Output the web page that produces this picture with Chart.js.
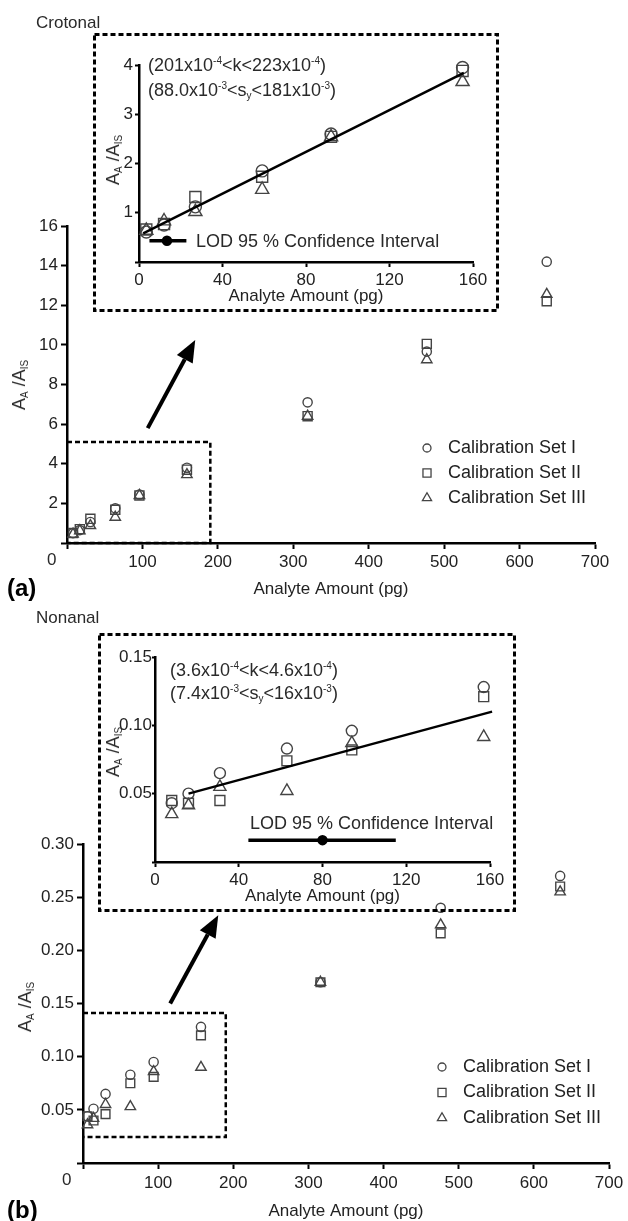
<!DOCTYPE html>
<html>
<head>
<meta charset="utf-8">
<script src="https://cdn.jsdelivr.net/npm/chart.js@4.4.0/dist/chart.umd.min.js"></script>
<style>
  html, body { margin: 0; padding: 0; background: #fff; }
  body { position: relative; width: 628px; height: 1221px; overflow: hidden;
         font-family: "Liberation Sans", Arial, sans-serif; color: #2a2a2a; }
  canvas { position: absolute; }
  .t { position: absolute; white-space: nowrap; line-height: 1; }
  .t sup { font-size: 10px; vertical-align: 7px; line-height: 0; }
  .t sub { font-size: 10px; vertical-align: -3px; line-height: 0; }
  .yt { position: absolute; white-space: nowrap; line-height: 1; font-size: 18px;
        transform: translate(-50%, -50%) rotate(-90deg); }
  .yt sub { font-size: 10px; vertical-align: -3px; line-height: 0; }
</style>
</head>
<body>
<canvas id="mainA" width="628" height="605" style="left:0;top:0"></canvas>
<canvas id="insetA" width="406" height="279" style="left:93px;top:33px"></canvas>
<canvas id="mainB" width="628" height="630" style="left:0;top:600px"></canvas>
<canvas id="insetB" width="418" height="279" style="left:98px;top:633px"></canvas>

<div class="t" style="left:36px;top:14px;font-size:17px">Crotonal</div>
<div class="t" style="left:36px;top:609px;font-size:17px">Nonanal</div>
<div class="t" style="left:7px;top:576px;font-size:24px;font-weight:bold;color:#000">(a)</div>
<div class="t" style="left:7px;top:1198px;font-size:24px;font-weight:bold;color:#000">(b)</div>
<div class="t" style="left:47px;top:551px;font-size:17px">0</div>
<div class="t" style="left:62px;top:1171px;font-size:17px">0</div>

<div class="yt" style="left:19px;top:385px">A<sub>A</sub> /A<sub>IS</sub></div>
<div class="yt" style="left:113px;top:160px">A<sub>A</sub> /A<sub>IS</sub></div>
<div class="yt" style="left:25px;top:1007px">A<sub>A</sub> /A<sub>IS</sub></div>
<div class="yt" style="left:113px;top:752px">A<sub>A</sub> /A<sub>IS</sub></div>

<div class="t" style="left:148px;top:56px;font-size:18px">(201x10<sup>-4</sup>&lt;k&lt;223x10<sup>-4</sup>)</div>
<div class="t" style="left:148px;top:81px;font-size:18px">(88.0x10<sup>-3</sup>&lt;s<sub>y</sub>&lt;181x10<sup>-3</sup>)</div>
<div class="t" style="left:196px;top:232px;font-size:18px">LOD 95 % Confidence Interval</div>

<div class="t" style="left:170px;top:661px;font-size:18px">(3.6x10<sup>-4</sup>&lt;k&lt;4.6x10<sup>-4</sup>)</div>
<div class="t" style="left:170px;top:684px;font-size:18px">(7.4x10<sup>-3</sup>&lt;s<sub>y</sub>&lt;16x10<sup>-3</sup>)</div>
<div class="t" style="left:250px;top:814px;font-size:18px">LOD 95 % Confidence Interval</div>

<script>
// crotonal, full range (a)
const amountA = [8, 17, 31, 64, 96, 159, 319, 477, 636];
const crotSet1 = [0.5, 0.65, 1.06, 1.75, 2.45, 3.8, 7.1, 9.66, 14.2];
const crotSet2 = [0.5, 0.7, 1.22, 1.68, 2.4, 3.7, 6.4, 10.05, 12.2];
const crotSet3 = [0.45, 0.62, 0.88, 1.3, 2.4, 3.45, 6.4, 9.25, 12.55];

// crotonal inset
const insetAmountA = [3.5, 12, 27, 59, 92, 155];
const insetCrot1 = [0.61, 0.75, 1.12, 1.85, 2.6, 3.95];
const insetCrot2 = [0.66, 0.77, 1.32, 1.73, 2.54, 3.88];
const insetCrot3 = [0.64, 0.83, 1.02, 1.47, 2.54, 3.66];
const fitAx = [2, 155.6];
const fitAy = [0.58, 3.84];
const lodAx = [5, 13.4, 22.7];
const lodAy = 0.43;

// nonanal, full range (b)
const amountB = [6, 14, 30, 63, 94, 157, 316, 476, 635];
const nonSet1 = [0.044, 0.051, 0.065, 0.083, 0.095, 0.128, 0.17, 0.240, 0.270];
const nonSet2 = [0.044, 0.040, 0.046, 0.075, 0.081, 0.120, 0.17, 0.216, 0.260];
const nonSet3 = [0.036, 0.042, 0.055, 0.053, 0.086, 0.090, 0.17, 0.224, 0.255];

// nonanal inset
const insetAmountB = [8, 16, 31, 63, 94, 157];
const insetNon1 = [0.043, 0.050, 0.065, 0.083, 0.096, 0.128];
const insetNon2 = [0.045, 0.043, 0.045, 0.074, 0.082, 0.121];
const insetNon3 = [0.035, 0.0415, 0.055, 0.052, 0.087, 0.0915];
const fitBx = [16, 161];
const fitBy = [0.050, 0.110];
const lodBx = [44.6, 80, 115];
const lodBy = 0.016;

// tick values
const xTicksMain = [0, 100, 200, 300, 400, 500, 600, 700];
const yTicksA = [0, 2, 4, 6, 8, 10, 12, 14, 16];
const yTicksB = [0, 0.05, 0.10, 0.15, 0.20, 0.25, 0.30];
const xTicksInset = [0, 40, 80, 120, 160];
const yTicksInsetA = [0, 1, 2, 3, 4];
const yTicksInsetB = [0, 0.05, 0.10, 0.15];

// zoom box + arrow, in data units of the main plots
const zoomBoxA = { x0: 0, x1: 190, y0: 0, y1: 5.1 };
const arrowA = { from: [107, 5.8], to: [170, 10.25] };
const zoomBoxB = { x0: 0, x1: 190, y0: 0.0244, y1: 0.141 };
const arrowB = { from: [116, 0.150], to: [180, 0.233] };

const SET_LABELS = ['Calibration Set I', 'Calibration Set II', 'Calibration Set III'];
const FONT = '"Liberation Sans", Arial, sans-serif';
const MARK = '#444';

Chart.defaults.font.family = FONT;
Chart.defaults.color = '#222';

function pts(xs, ys) {
  return xs.map((x, i) => ({ x, y: ys[i] }));
}

function markers(xs, ys, i, sizes) {
  const styles = ['circle', 'rect', 'triangle'];
  return {
    label: SET_LABELS[i],
    data: pts(xs, ys),
    pointStyle: styles[i],
    pointRadius: sizes[i],
    pointHoverRadius: sizes[i],
    borderColor: MARK,
    backgroundColor: 'rgba(0,0,0,0)',
    borderWidth: 1.4,
    showLine: false,
    clip: false,
    inLegend: true
  };
}

function fitLine(xs, ys) {
  return {
    label: 'fit',
    data: pts(xs, ys),
    showLine: true,
    borderColor: '#000',
    borderWidth: 2.5,
    pointRadius: 0,
    clip: false
  };
}

function lodBar(xs, y) {
  return {
    label: 'LOD',
    data: xs.map(x => ({ x, y })),
    showLine: true,
    borderColor: '#000',
    borderWidth: 3.5,
    pointRadius: [0, 3.5, 0],
    pointBackgroundColor: '#000',
    pointBorderColor: '#000',
    clip: false
  };
}

function axis(ticks, o) {
  return {
    type: 'linear',
    min: ticks[0],
    max: ticks[ticks.length - 1],
    afterBuildTicks: s => { s.ticks = ticks.map(v => ({ value: v })); },
    afterFit: s => { if (s.isHorizontal()) s.height = o.size; else s.width = o.size; },
    ticks: {
      callback: o.fmt,
      font: { size: 17 },
      color: '#222',
      padding: o.pad,
      autoSkip: false,
      maxRotation: 0,
      minRotation: 0
    },
    grid: { drawOnChartArea: false, tickLength: o.tick, tickWidth: 2, tickColor: '#000' },
    border: { color: '#000', width: 2.5 },
    title: o.title
      ? { display: true, text: o.title, font: { size: 17 }, color: '#222', padding: 0 }
      : { display: false }
  };
}

const hideZero = v => (v === 0 ? '' : v);
const twoDec = v => (v === 0 ? '' : Number(v).toFixed(2));

function zoomMarks(box, arrow) {
  return {
    id: 'zoomMarks',
    afterDatasetsDraw(chart) {
      const { ctx, scales: { x, y } } = chart;
      ctx.save();
      ctx.strokeStyle = '#000';
      ctx.lineWidth = 2.5;
      ctx.setLineDash([5, 3]);
      const l = x.getPixelForValue(box.x0), r = x.getPixelForValue(box.x1);
      const t = y.getPixelForValue(box.y1), b = y.getPixelForValue(box.y0);
      ctx.beginPath();
      ctx.moveTo(l, t); ctx.lineTo(r, t); ctx.lineTo(r, b); ctx.lineTo(l, b);
      ctx.stroke();
      ctx.setLineDash([]);

      const x1 = x.getPixelForValue(arrow.from[0]), y1 = y.getPixelForValue(arrow.from[1]);
      const x2 = x.getPixelForValue(arrow.to[0]), y2 = y.getPixelForValue(arrow.to[1]);
      const ang = Math.atan2(y2 - y1, x2 - x1);
      const head = 22, half = 9;
      const bx = x2 - head * Math.cos(ang), by = y2 - head * Math.sin(ang);
      ctx.lineWidth = 4;
      ctx.beginPath(); ctx.moveTo(x1, y1); ctx.lineTo(bx, by); ctx.stroke();
      ctx.fillStyle = '#000';
      ctx.beginPath();
      ctx.moveTo(x2, y2);
      ctx.lineTo(bx + half * Math.sin(ang), by - half * Math.cos(ang));
      ctx.lineTo(bx - half * Math.sin(ang), by + half * Math.cos(ang));
      ctx.closePath();
      ctx.fill();
      ctx.restore();
    }
  };
}

const dashedFrame = {
  id: 'dashedFrame',
  afterDraw(chart) {
    const { ctx, width, height } = chart;
    ctx.save();
    ctx.setLineDash([5, 3]);
    ctx.lineWidth = 3;
    ctx.strokeStyle = '#000';
    ctx.strokeRect(1.5, 1.5, width - 3, height - 3);
    ctx.restore();
  }
};

// small symbol legend drawn with the same geometry chart.js uses
function symbol(ctx, style, x, y, r) {
  ctx.beginPath();
  if (style === 'circle') {
    ctx.arc(x, y, r, 0, Math.PI * 2);
  } else if (style === 'rect') {
    const s = Math.SQRT1_2 * r;
    ctx.rect(x - s, y - s, 2 * s, 2 * s);
  } else {
    let a = 0;
    ctx.moveTo(x + Math.sin(a) * r, y - Math.cos(a) * r);
    a += 2 * Math.PI / 3;
    ctx.lineTo(x + Math.sin(a) * r, y - Math.cos(a) * r);
    a += 2 * Math.PI / 3;
    ctx.lineTo(x + Math.sin(a) * r, y - Math.cos(a) * r);
    ctx.closePath();
  }
  ctx.stroke();
}

function symbolLegend(x, y, gap, textX) {
  const sizes = { circle: 4, rect: 5.7, triangle: 5.3 };
  return {
    id: 'symbolLegend',
    afterDraw(chart) {
      const ctx = chart.ctx;
      let row = 0;
      ctx.save();
      ctx.font = '18px ' + FONT;
      ctx.textBaseline = 'middle';
      chart.data.datasets.forEach(ds => {
        if (!ds.inLegend) return;
        const cy = y + row * gap;
        ctx.strokeStyle = MARK;
        ctx.lineWidth = 1.3;
        symbol(ctx, ds.pointStyle, x, cy, sizes[ds.pointStyle]);
        ctx.fillStyle = '#222';
        ctx.fillText(ds.label, textX, cy);
        row++;
      });
      ctx.restore();
    }
  };
}

function baseOptions(padding, scales) {
  return {
    responsive: false,
    animation: false,
    events: [],
    layout: { padding },
    plugins: { legend: { display: false }, tooltip: { enabled: false } },
    scales
  };
}

// panel (a) main
new Chart(document.getElementById('mainA'), {
  type: 'scatter',
  data: {
    datasets: [
      markers(amountA, crotSet1, 0, [4.6, 6.4, 6]),
      markers(amountA, crotSet2, 1, [4.6, 6.4, 6]),
      markers(amountA, crotSet3, 2, [4.6, 6.4, 6])
    ]
  },
  options: baseOptions({ left: 0, top: 226, right: 33, bottom: 5 }, {
    x: axis(xTicksMain, { size: 57, tick: 6, pad: 3, fmt: hideZero, title: 'Analyte Amount (pg)' }),
    y: axis(yTicksA, { size: 67, tick: 6, pad: 3, fmt: hideZero })
  }),
  plugins: [zoomMarks(zoomBoxA, arrowA), symbolLegend(427, 448, 25, 448)]
});

// panel (a) inset
new Chart(document.getElementById('insetA'), {
  type: 'scatter',
  data: {
    datasets: [
      fitLine(fitAx, fitAy),
      lodBar(lodAx, lodAy),
      markers(insetAmountA, insetCrot1, 0, [6, 7.8, 7.6]),
      markers(insetAmountA, insetCrot2, 1, [6, 7.8, 7.6]),
      markers(insetAmountA, insetCrot3, 2, [6, 7.8, 7.6])
    ]
  },
  options: baseOptions({ left: 0, top: 32, right: 26, bottom: 5 }, {
    x: axis(xTicksInset, { size: 45, tick: 5, pad: 3, fmt: v => v, title: 'Analyte Amount (pg)' }),
    y: axis(yTicksInsetA, { size: 46, tick: 4, pad: 2, fmt: hideZero })
  }),
  plugins: [dashedFrame]
});

// panel (b) main
new Chart(document.getElementById('mainB'), {
  type: 'scatter',
  data: {
    datasets: [
      markers(amountB, nonSet1, 0, [4.6, 6.2, 6]),
      markers(amountB, nonSet2, 1, [4.6, 6.2, 6]),
      markers(amountB, nonSet3, 2, [4.6, 6.2, 6])
    ]
  },
  options: baseOptions({ left: 0, top: 244, right: 19, bottom: 8 }, {
    x: axis(xTicksMain, { size: 59, tick: 6, pad: 4, fmt: hideZero, title: 'Analyte Amount (pg)' }),
    y: axis(yTicksB, { size: 83, tick: 6, pad: 3, fmt: twoDec })
  }),
  plugins: [zoomMarks(zoomBoxB, arrowB), symbolLegend(442, 467, 25.5, 463)]
});

// panel (b) inset
new Chart(document.getElementById('insetB'), {
  type: 'scatter',
  data: {
    datasets: [
      fitLine(fitBx, fitBy),
      lodBar(lodBx, lodBy),
      markers(insetAmountB, insetNon1, 0, [5.5, 7, 7]),
      markers(insetAmountB, insetNon2, 1, [5.5, 7, 7]),
      markers(insetAmountB, insetNon3, 2, [5.5, 7, 7])
    ]
  },
  options: baseOptions({ left: 0, top: 24, right: 26, bottom: 5 }, {
    x: axis(xTicksInset, { size: 45, tick: 5, pad: 3, fmt: v => v, title: 'Analyte Amount (pg)' }),
    y: axis(yTicksInsetB, { size: 57, tick: 3, pad: 0, fmt: twoDec })
  }),
  plugins: [dashedFrame]
});
</script>
</body>
</html>
